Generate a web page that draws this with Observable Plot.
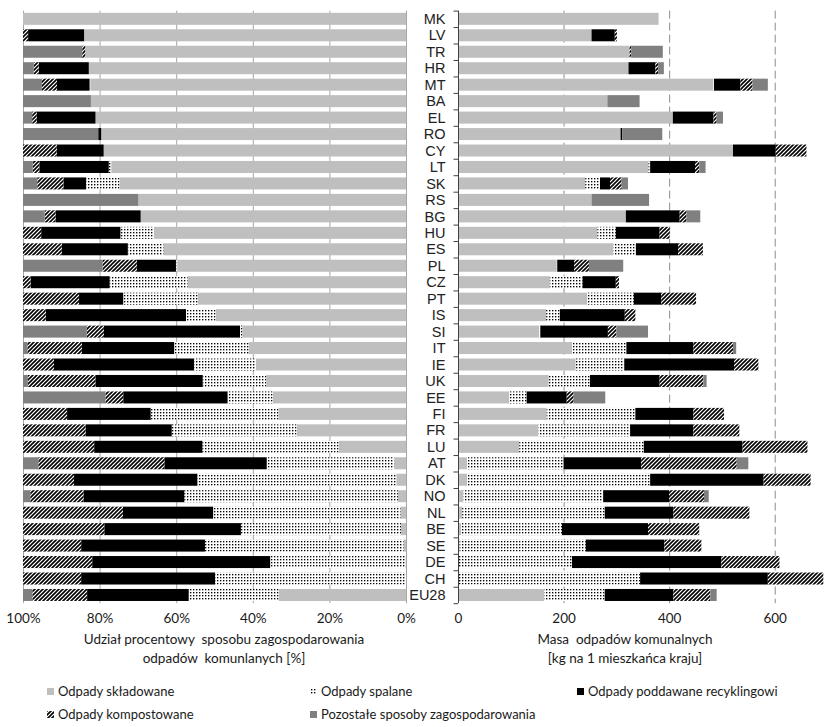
<!DOCTYPE html>
<html>
<head>
<meta charset="utf-8">
<script src="https://cdn.jsdelivr.net/npm/d3@7"></script>
<script src="https://cdn.jsdelivr.net/npm/@observablehq/plot@0.6"></script>
<style>
  html, body { margin: 0; padding: 0; background: #fff; }
  #wrap { position: relative; width: 830px; height: 727px; overflow: hidden; font-family: Lato, "Open Sans", sans-serif; color: #1a1a1a; }
  .panel { position: absolute; top: 0; }
  .title { position: absolute; font-size: 13.5px; line-height: 19px; text-align: center; white-space: pre; transform: translateX(-50%); }
  .leg { position: absolute; font-size: 13px; white-space: pre; display: flex; align-items: center; transform: translateY(-50%); }
  .leg svg { margin-right: 4px; }
</style>
</head>
<body>
<svg width="0" height="0" style="position:absolute">
  <defs>
    <pattern id="pDots" patternUnits="userSpaceOnUse" width="3" height="3">
      <rect width="3" height="3" fill="#fff"/>
      <rect x="1" y="1" width="1.35" height="1.35" fill="#000"/>
    </pattern>
    <pattern id="pHatch" patternUnits="userSpaceOnUse" width="4" height="4">
      <rect width="4" height="4" fill="#fff"/>
      <path d="M-1,1 L1,-1 M0,4 L4,0 M3,5 L5,3" stroke="#000" stroke-width="1.6"/>
    </pattern>
  </defs>
</svg>
<div id="wrap"></div>
<script>
// ---- data (kg per inhabitant) ----
const countries = ["MK","LV","TR","HR","MT","BA","EL","RO","CY","LT","SK","RS","BG","HU","ES","PL","CZ","PT","IS","SI","IT","IE","UK","EE","FI","FR","LU","AT","DK","NO","NL","BE","SE","DE","CH","EU28"];
const landfill     = [380,253,325,323,484,283,407,308,521,361,241,253,318,264,294,187,174,245,167,154,216,223,172, 97,168,152,116, 17, 17, 10,  8,  6,  3,  1,  0,163];
const incineration = [  0,  0,  0,  0,  1,  0,  0,  0,  0,  3, 28,  0,  0, 35, 43,  1, 62, 88, 26,  2,103, 92, 78, 33,168,174,236,183,347,265,270,191,239,215,345,115];
const recycling    = [  0, 44,  0, 51, 50,  0, 77,  3, 81, 85, 19,  0,102, 83, 80, 32, 63, 52,123,128,127,208,132, 76,110,120,187,147,215,125,130,163,149,283,242,130];
const composting   = [  0,  4,  3,  5, 23,  0,  6,  0, 58,  8, 22,  0, 13, 19, 47, 28,  6, 66, 20, 16, 75, 46, 83, 13, 58, 87,123,181, 89, 66,144, 97, 70,110,105, 70];
const other        = [  0,  0, 60, 11, 29, 61, 12, 76,  0, 12, 12,109, 26,  0,  0, 65,  0,  0,  0, 60,  6,  0,  6, 60,  0,  0,  0, 22,  0,  9,  0,  0,  0,  0,  0, 12];

const types = ["Odpady składowane","Odpady spalane","Odpady poddawane recyklingowi","Odpady kompostowane","Pozostałe sposoby zagospodarowania"];
const fills = ["#bfbfbf","url(#pDots)","#000000","url(#pHatch)","#808080"];
const pctTicks = [0, 0.2, 0.4, 0.6, 0.8, 1];
const kgTicks = [0, 200, 400, 600];

const series = [landfill, incineration, recycling, composting, other];
const rows = [];
countries.forEach((c, i) => series.forEach((s, k) => rows.push({country: c, type: types[k], value: s[i]})));

// ---- layout ----
const H = 635, MT = 10.6, MB = 31.8;
const step = (H - MT - MB) / countries.length;
const yOpts = {domain: countries, paddingInner: 0.27, paddingOuter: 0.135, round: false};
const colorOpts = {domain: types, range: fills};
const style = {fontFamily: "Lato, 'Open Sans', sans-serif", fontSize: "13.5px", color: "#1a1a1a", background: "transparent", overflow: "visible"};

const left = Plot.plot({
  width: 410, height: H, marginLeft: 23, marginRight: 4, marginTop: MT, marginBottom: MB,
  style,
  x: {domain: [1, 0]},
  y: {...yOpts, axis: null},
  color: colorOpts,
  marks: [
    Plot.ruleX(pctTicks, {stroke: "#a6a6a6", strokeWidth: 1}),
    Plot.barX(rows, Plot.stackX({offset: "normalize", x: "value", y: "country", fill: "type"})),
    Plot.axisX({ticks: pctTicks, tickFormat: d => Math.round(d * 100) + "%", tickSize: 0, tickPadding: 10, label: null, fill: "#1a1a1a"})
  ]
});

const right = Plot.plot({
  width: 420, height: H, marginLeft: 48, marginRight: 2.5, marginTop: MT, marginBottom: MB,
  style,
  x: {domain: [0, 700]},
  y: yOpts,
  color: colorOpts,
  marks: [
    Plot.ruleX(kgTicks.slice(1), {stroke: "#8c8c8c", strokeWidth: 1, strokeDasharray: "8,4"}),
    Plot.barX(rows, Plot.stackX({x: "value", y: "country", fill: "type"})),
    Plot.ruleX([0], {stroke: "#404040", strokeWidth: 1}),
    Plot.ruleY(countries, {y: d => d, x1: -8.5, x2: 0, dy: -step / 2, stroke: "#404040"}),
    Plot.ruleY(countries.slice(-1), {y: d => d, x1: -8.5, x2: 0, dy: step / 2, stroke: "#404040"}),
    Plot.axisY({tickSize: 0, tickPadding: 13, label: null, fontSize: 14.5, fontWeight: "normal", fontFamily: "'Liberation Sans', Arial, sans-serif", fill: "#222"}),
    Plot.axisX({ticks: kgTicks, tickSize: 0, tickPadding: 10, label: null, fill: "#1a1a1a"})
  ]
});

const wrap = document.getElementById("wrap");
left.classList.add("panel"); left.style.left = "0px";
right.classList.add("panel"); right.style.left = "410px";
wrap.appendChild(left);
wrap.appendChild(right);

// axis titles
function addTitle(text, cx, top) {
  const d = document.createElement("div");
  d.className = "title"; d.textContent = text;
  d.style.left = cx + "px"; d.style.top = top + "px";
  wrap.appendChild(d);
}
addTitle("Udział procentowy  sposobu zagospodarowania\nodpadów  komunlanych [%]", 224, 630);
addTitle("Masa  odpadów komunalnych\n[kg na 1 mieszkańca kraju]", 625, 630);

// legend
const legPos = [[47, 691], [310, 691], [577, 691], [47, 714], [310, 714]];
types.forEach((t, k) => {
  const d = document.createElement("div");
  d.className = "leg";
  d.style.left = legPos[k][0] + "px"; d.style.top = legPos[k][1] + "px";
  d.innerHTML = `<svg width="7" height="7"><rect width="7" height="7" fill="${fills[k]}"/></svg>`;
  const s = document.createElement("span"); s.textContent = t; d.appendChild(s);
  wrap.appendChild(d);
});
</script>
</body>
</html>
